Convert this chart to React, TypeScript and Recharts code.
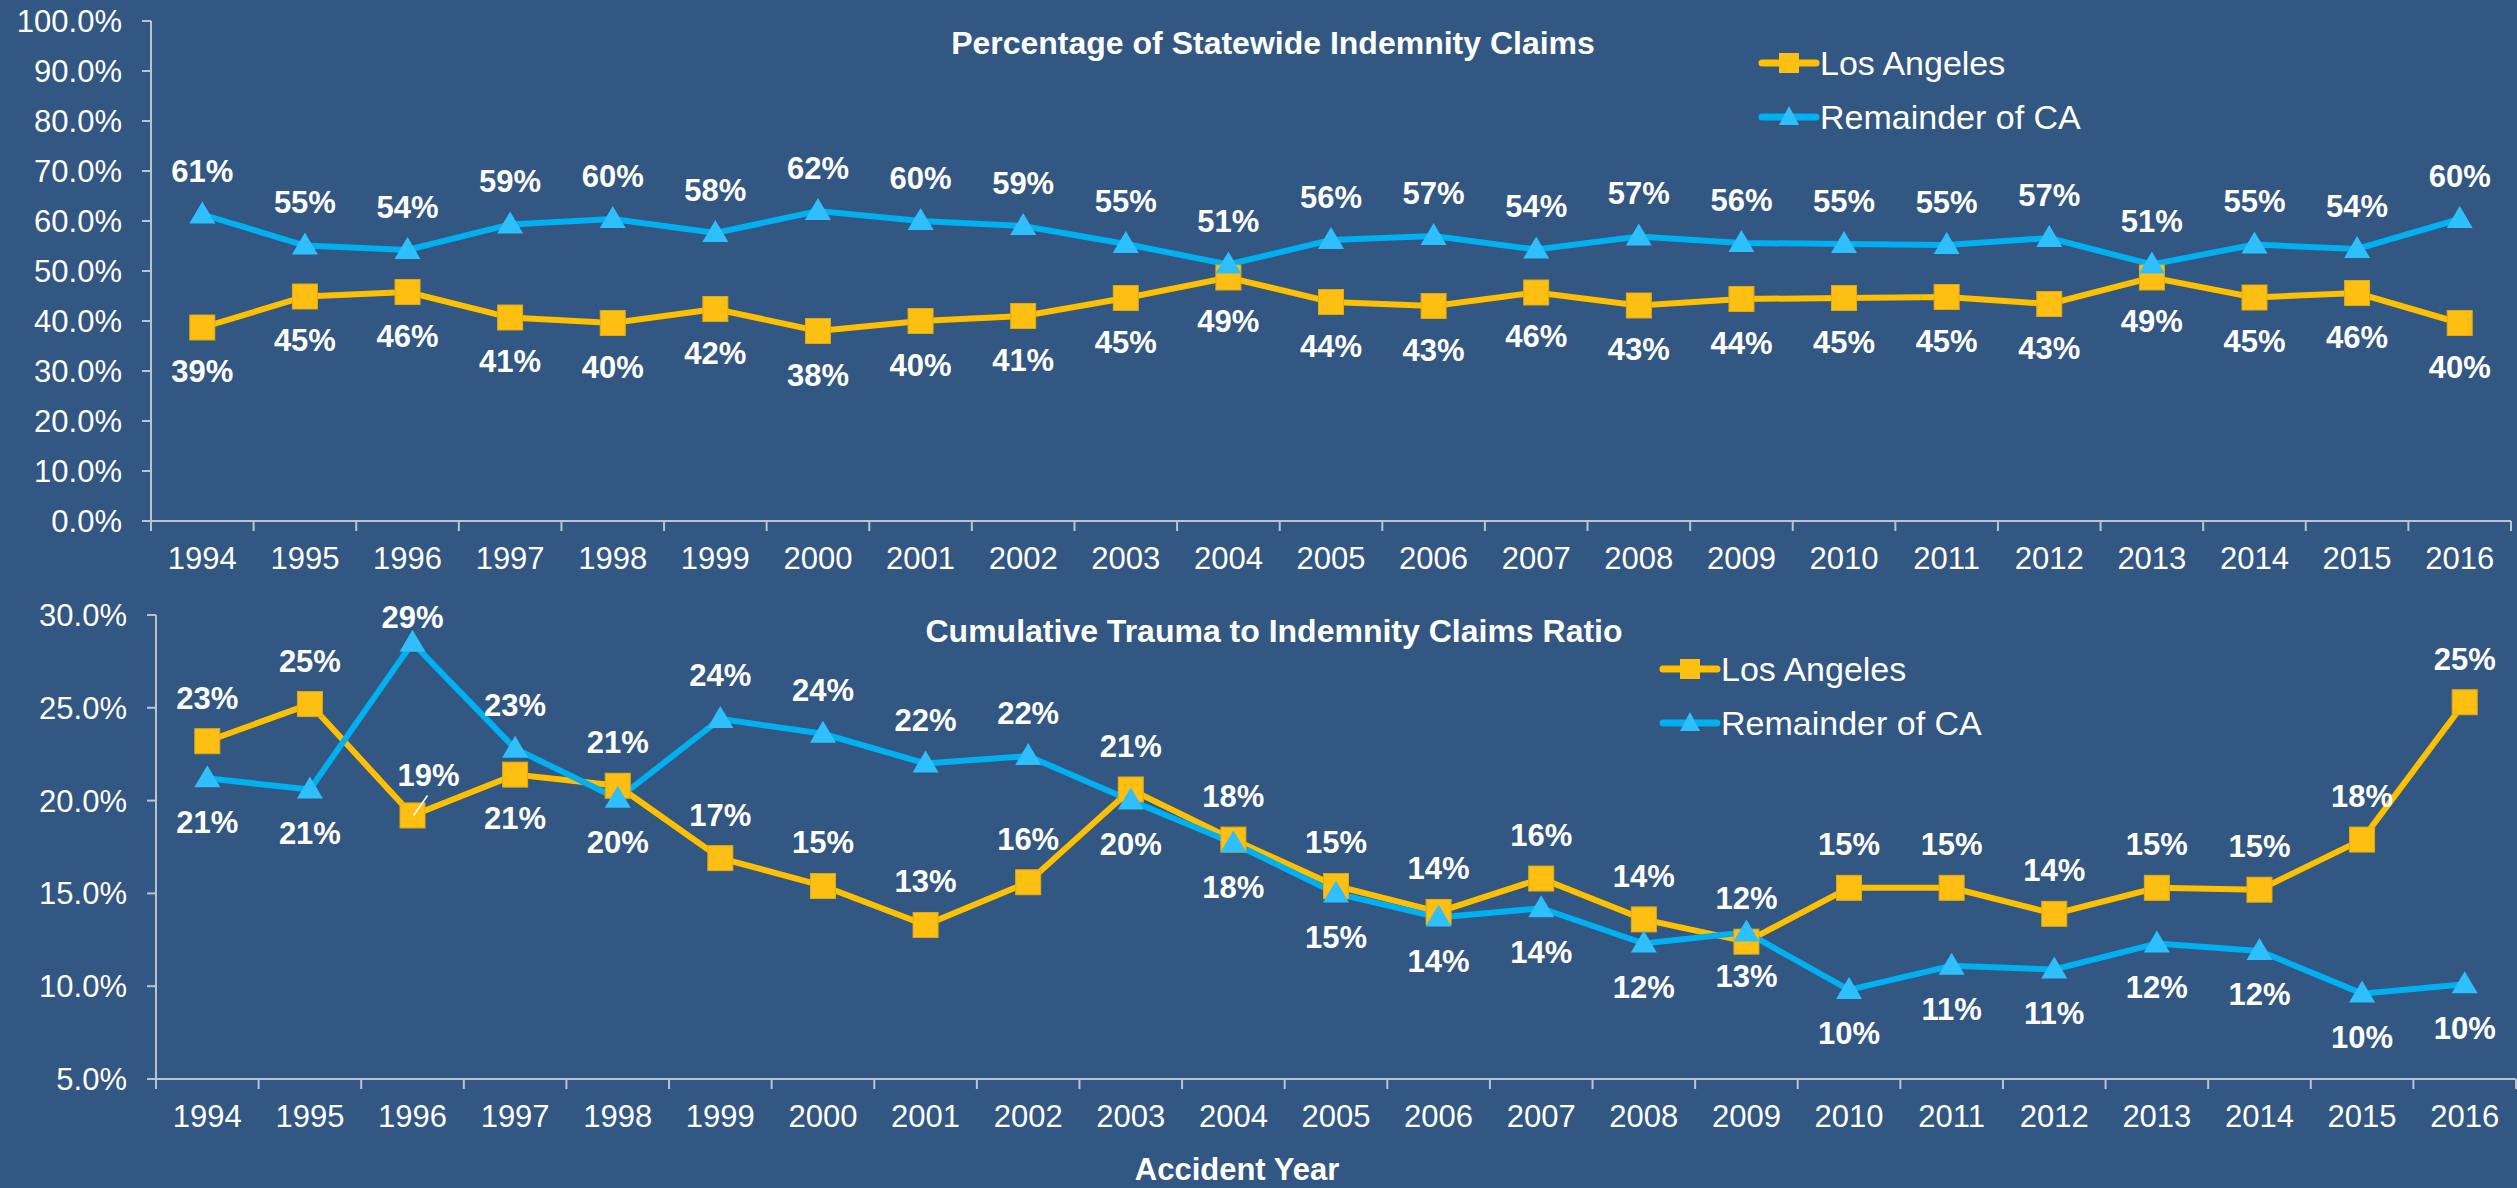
import React from "react";
import { LineChart, Line, XAxis, YAxis, Legend, LabelList } from "recharts";

const years = [
  "1994", "1995", "1996", "1997", "1998", "1999", "2000", "2001", "2002", "2003", "2004", "2005",
  "2006", "2007", "2008", "2009", "2010", "2011", "2012", "2013", "2014", "2015", "2016",
];

// share of statewide indemnity claims (%)
const shareLosAngeles = [
  38.7, 44.9, 45.8, 40.7, 39.6, 42.4, 38.0, 40.0, 41.0, 44.6, 48.7, 43.8,
  43.0, 45.7, 43.1, 44.4, 44.6, 44.8, 43.4, 48.7, 44.7, 45.6, 39.6,
];
const shareRemainder = [
  61.3, 55.1, 54.2, 59.3, 60.4, 57.6, 62.0, 60.0, 59.0, 55.4, 51.3, 56.2,
  57.0, 54.3, 56.9, 55.6, 55.4, 55.2, 56.6, 51.3, 55.3, 54.4, 60.4,
];

// cumulative trauma to indemnity claims ratio (%)
const ctLosAngeles = [
  23.2, 25.2, 19.2, 21.4, 20.8, 16.9, 15.4, 13.3, 15.6, 20.6, 17.9, 15.4,
  14.0, 15.8, 13.6, 12.4, 15.3, 15.3, 13.9, 15.3, 15.2, 17.9, 25.3,
];
const ctRemainder = [
  21.2, 20.6, 28.5, 22.8, 20.1, 24.4, 23.6, 22.0, 22.4, 20.0, 17.7, 15.0,
  13.7, 14.2, 12.3, 12.9, 9.8, 11.1, 10.9, 12.3, 11.9, 9.6, 10.1,
];

const shareTicks = [0, 10, 20, 30, 40, 50, 60, 70, 80, 90, 100];
const ctTicks = [5, 10, 15, 20, 25, 30];

// which side of the point each label sits on (the original labels were nudged by hand)
const ctLaSide = [
  "up", "up", "leader", "down", "up", "up", "up", "up", "up", "up", "up", "up",
  "up", "up", "up", "up", "up", "up", "up", "up", "up", "up", "up",
];
const ctRemSide = [
  "down", "down", "close", "up", "down", "up", "up", "up", "up", "down", "down", "down",
  "down", "down", "down", "down", "down", "down", "down", "down", "down", "down", "down",
];
const allDown = years.map(() => "down");
const allUp = years.map(() => "up");

const shareRows = years.map((year, i) => ({
  year,
  la: shareLosAngeles[i],
  rem: shareRemainder[i],
}));
const ctRows = years.map((year, i) => ({
  year,
  la: ctLosAngeles[i],
  rem: ctRemainder[i],
}));

const BG = "#325782";
const AXIS = "#BAC4D1";
const GOLD = "#FFC000";
const GOLD_MARK = "#FCBF12";
const BLUE = "#00B0F0";
const BLUE_MARK = "#2FBFFD";
const FONT = '"Liberation Sans", Arial, sans-serif';
const BAND = (2511 - 151) / 23;

function SquareDot(props: any) {
  const { cx, cy } = props;
  if (cx == null || cy == null) return null;
  return (
    <rect x={cx - 12.5} y={cy - 12.5} width={25} height={25} fill={GOLD_MARK} stroke="#E2AC10" strokeWidth={1} />
  );
}

function TriangleDot(props: any) {
  const { cx, cy } = props;
  if (cx == null || cy == null) return null;
  return (
    <polygon
      points={`${cx},${cy - 13} ${cx + 13},${cy + 9} ${cx - 13},${cy + 9}`}
      fill={BLUE_MARK}
    />
  );
}

function makeLabel(sides: string[]) {
  return (props: any) => {
    const { x, y, value, index } = props;
    if (x == null || y == null) return null;
    const side = sides[index];
    const text = `${Math.round(Number(value))}%`;
    const style = { fontFamily: FONT, fontSize: 31, fontWeight: 700, fill: "#fff" };
    if (side === "leader") {
      return (
        <g>
          <line x1={x + 1} y1={y} x2={x + 15} y2={y - 20} stroke="#fff" strokeWidth={1.5} />
          <text x={x + 16} y={y - 40} textAnchor="middle" dominantBaseline="central" style={style}>
            {text}
          </text>
        </g>
      );
    }
    const dy = side === "up" ? -43 : side === "close" ? -25 : 44;
    return (
      <text x={x} y={y + dy} textAnchor="middle" dominantBaseline="central" style={style}>
        {text}
      </text>
    );
  };
}

function YearTick(props: any) {
  const { x, y, payload, index, visibleTicksCount } = props;
  const axisY = y - 10;
  const left = x - BAND / 2;
  return (
    <g>
      <line x1={left} x2={left} y1={axisY} y2={axisY + 10} stroke={AXIS} strokeWidth={2} />
      {index === visibleTicksCount - 1 && (
        <line x1={left + BAND} x2={left + BAND} y1={axisY} y2={axisY + 10} stroke={AXIS} strokeWidth={2} />
      )}
      <text
        x={x}
        y={axisY + 37}
        textAnchor="middle"
        dominantBaseline="central"
        style={{ fontFamily: FONT, fontSize: 31, fill: "#fff" }}
      >
        {payload.value}
      </text>
    </g>
  );
}

function LegendBox(props: any) {
  const { payload } = props;
  return (
    <div style={{ fontFamily: FONT }}>
      {(payload || []).map((entry: any) => {
        const isLa = entry.dataKey === "la";
        return (
          <div key={entry.dataKey} style={{ display: "flex", alignItems: "center", height: 54 }}>
            <svg width={62} height={54}>
              <line x1={4} y1={27} x2={58} y2={27} stroke={isLa ? GOLD : BLUE} strokeWidth={7} strokeLinecap="round" />
              {isLa ? (
                <rect x={21} y={17} width={20} height={20} fill={GOLD_MARK} />
              ) : (
                <polygon points="31,16 41,35 21,35" fill={BLUE_MARK} />
              )}
            </svg>
            <span style={{ color: "#fff", fontSize: 34, whiteSpace: "nowrap" }}>{entry.value}</span>
          </div>
        );
      })}
    </div>
  );
}

const yTickStyle = { fill: "#fff", fontSize: 31, fontFamily: FONT };

function Panel(props: {
  rows: any[];
  height: number;
  top: number;
  yWidth: number;
  xHeight: number;
  right: number;
  domain: number[];
  ticks: number[];
  laSides: string[];
  remSides: string[];
  legendLeft: number;
  legendTop: number;
}) {
  const p = props;
  return (
    <LineChart
      width={2517}
      height={p.height}
      data={p.rows}
      margin={{ top: p.top, right: p.right, bottom: 0, left: 0 }}
      style={{ overflow: "visible" }}
    >
      <XAxis
        dataKey="year"
        scale="band"
        interval={0}
        height={p.xHeight}
        tickLine={false}
        tickSize={10}
        tickMargin={0}
        axisLine={{ stroke: AXIS, strokeWidth: 2 }}
        tick={<YearTick />}
      />
      <YAxis
        type="number"
        domain={p.domain}
        ticks={p.ticks}
        interval={0}
        width={p.yWidth}
        tickSize={9}
        tickMargin={20}
        tickFormatter={(v: number) => `${v.toFixed(1)}%`}
        tick={yTickStyle}
        axisLine={{ stroke: AXIS, strokeWidth: 2 }}
        tickLine={{ stroke: AXIS, strokeWidth: 2 }}
      />
      <Legend
        layout="vertical"
        align="center"
        verticalAlign="middle"
        wrapperStyle={{ left: p.legendLeft, top: p.legendTop, width: 500 }}
        content={<LegendBox />}
      />
      <Line
        dataKey="la"
        name="Los Angeles"
        stroke={GOLD}
        strokeWidth={6}
        dot={<SquareDot />}
        activeDot={false}
        isAnimationActive={false}
      >
        <LabelList dataKey="la" content={makeLabel(p.laSides)} />
      </Line>
      <Line
        dataKey="rem"
        name="Remainder of CA"
        stroke={BLUE}
        strokeWidth={6}
        dot={<TriangleDot />}
        activeDot={false}
        isAnimationActive={false}
      >
        <LabelList dataKey="rem" content={makeLabel(p.remSides)} />
      </Line>
    </LineChart>
  );
}

const titleStyle: React.CSSProperties = {
  position: "absolute",
  transform: "translate(-50%, -50%)",
  color: "#fff",
  fontFamily: FONT,
  fontWeight: 700,
  whiteSpace: "nowrap",
};

export default function App() {
  return (
    <div
      style={{
        position: "fixed",
        left: 0,
        top: 0,
        width: 2517,
        height: 1188,
        background: BG,
        overflow: "hidden",
      }}
    >
      <div style={{ position: "absolute", left: 0, top: 0 }}>
        <Panel
          rows={shareRows}
          height={590}
          top={21}
          right={6}
          yWidth={151}
          xHeight={69}
          domain={[0, 100]}
          ticks={shareTicks}
          laSides={allDown}
          remSides={allUp}
          legendLeft={1758}
          legendTop={36}
        />
      </div>
      <div style={{ position: "absolute", left: 0, top: 590 }}>
        <Panel
          rows={ctRows}
          height={598}
          top={25}
          right={1}
          yWidth={156}
          xHeight={109}
          domain={[5, 30]}
          ticks={ctTicks}
          laSides={ctLaSide}
          remSides={ctRemSide}
          legendLeft={1659}
          legendTop={52}
        />
      </div>
      <div style={{ ...titleStyle, left: 1273, top: 43, fontSize: 32 }}>
        Percentage of Statewide Indemnity Claims
      </div>
      <div style={{ ...titleStyle, left: 1274, top: 631, fontSize: 32 }}>
        Cumulative Trauma to Indemnity Claims Ratio
      </div>
      <div style={{ ...titleStyle, left: 1237, top: 1170, fontSize: 31 }}>Accident Year</div>
    </div>
  );
}
